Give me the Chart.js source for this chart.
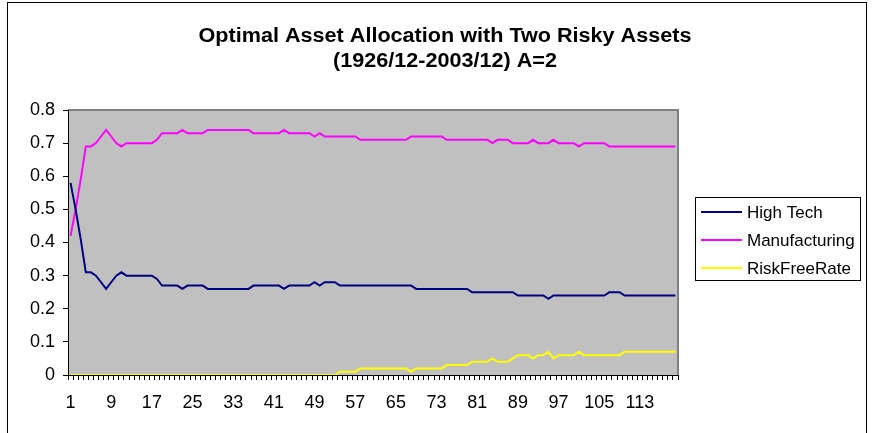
<!DOCTYPE html>
<html>
<head>
<meta charset="utf-8">
<script src="https://cdn.jsdelivr.net/npm/chart.js@4.4.1/dist/chart.umd.min.js"></script>
<style>
  html, body { margin: 0; padding: 0; background: #ffffff; }
  #wrap { width: 873px; height: 433px; position: relative; }
</style>
</head>
<body>
<div id="wrap"><canvas id="c" width="873" height="433"></canvas></div>
<script>
// ---- Data ----
const titleLines = ["Optimal Asset Allocation with Two Risky Assets", "(1926/12-2003/12) A=2"];
const categories = [1,2,3,4,5,6,7,8,9,10,11,12,13,14,15,16,17,18,19,20,21,22,23,24,25,26,27,28,29,30,
  31,32,33,34,35,36,37,38,39,40,41,42,43,44,45,46,47,48,49,50,51,52,53,54,55,56,57,58,59,60,
  61,62,63,64,65,66,67,68,69,70,71,72,73,74,75,76,77,78,79,80,81,82,83,84,85,86,87,88,89,90,
  91,92,93,94,95,96,97,98,99,100,101,102,103,104,105,106,107,108,109,110,111,112,113,114,115,116,117,118,119,120];
const highTech = [0.58,0.50,0.41,0.31,0.31,0.30,0.28,0.26,0.28,0.30,0.31,0.30,0.30,0.30,0.30,0.30,0.30,0.29,0.27,0.27,
  0.27,0.27,0.26,0.27,0.27,0.27,0.27,0.26,0.26,0.26,0.26,0.26,0.26,0.26,0.26,0.26,0.27,0.27,0.27,0.27,
  0.27,0.27,0.26,0.27,0.27,0.27,0.27,0.27,0.28,0.27,0.28,0.28,0.28,0.27,0.27,0.27,0.27,0.27,0.27,0.27,
  0.27,0.27,0.27,0.27,0.27,0.27,0.27,0.27,0.26,0.26,0.26,0.26,0.26,0.26,0.26,0.26,0.26,0.26,0.26,0.25,
  0.25,0.25,0.25,0.25,0.25,0.25,0.25,0.25,0.24,0.24,0.24,0.24,0.24,0.24,0.23,0.24,0.24,0.24,0.24,0.24,
  0.24,0.24,0.24,0.24,0.24,0.24,0.25,0.25,0.25,0.24,0.24,0.24,0.24,0.24,0.24,0.24,0.24,0.24,0.24,0.24];
const manufacturing = [0.42,0.50,0.59,0.69,0.69,0.70,0.72,0.74,0.72,0.70,0.69,0.70,0.70,0.70,0.70,0.70,0.70,0.71,0.73,0.73,
  0.73,0.73,0.74,0.73,0.73,0.73,0.73,0.74,0.74,0.74,0.74,0.74,0.74,0.74,0.74,0.74,0.73,0.73,0.73,0.73,
  0.73,0.73,0.74,0.73,0.73,0.73,0.73,0.73,0.72,0.73,0.72,0.72,0.72,0.72,0.72,0.72,0.72,0.71,0.71,0.71,
  0.71,0.71,0.71,0.71,0.71,0.71,0.71,0.72,0.72,0.72,0.72,0.72,0.72,0.72,0.71,0.71,0.71,0.71,0.71,0.71,
  0.71,0.71,0.71,0.70,0.71,0.71,0.71,0.70,0.70,0.70,0.70,0.71,0.70,0.70,0.70,0.71,0.70,0.70,0.70,0.70,
  0.69,0.70,0.70,0.70,0.70,0.70,0.69,0.69,0.69,0.69,0.69,0.69,0.69,0.69,0.69,0.69,0.69,0.69,0.69,0.69];
const riskFreeRate = [0,0,0,0,0,0,0,0,0,0,0,0,0,0,0,0,0,0,0,0,
  0,0,0,0,0,0,0,0,0,0,0,0,0,0,0,0,0,0,0,0,
  0,0,0,0,0,0,0,0,0,0,0,0,0,0.01,0.01,0.01,0.01,0.02,0.02,0.02,
  0.02,0.02,0.02,0.02,0.02,0.02,0.02,0.01,0.02,0.02,0.02,0.02,0.02,0.02,0.03,0.03,0.03,0.03,0.03,0.04,
  0.04,0.04,0.04,0.05,0.04,0.04,0.04,0.05,0.06,0.06,0.06,0.05,0.06,0.06,0.07,0.05,0.06,0.06,0.06,0.06,
  0.07,0.06,0.06,0.06,0.06,0.06,0.06,0.06,0.06,0.07,0.07,0.07,0.07,0.07,0.07,0.07,0.07,0.07,0.07,0.07];
const seriesNames = ["High Tech", "Manufacturing", "RiskFreeRate"];
const yTicks = [0, 0.1, 0.2, 0.3, 0.4, 0.5, 0.6, 0.7, 0.8];
const xLabelEvery = 8;

const FONT = "'Liberation Sans', Arial, sans-serif";
const colors = ["#000080", "#FF00FF", "#FFFF00"];

const decorPlugin = {
  id: 'decor',
  beforeDraw(chart) {
    const ctx = chart.ctx, a = chart.chartArea;
    ctx.save();
    ctx.fillStyle = '#ffffff';
    ctx.fillRect(0, 0, chart.width, chart.height);
    // outer chart border
    ctx.strokeStyle = '#000000';
    ctx.lineWidth = 1;
    ctx.strokeRect(7.5, 2.5, 859, 460);
    // plot area
    ctx.fillStyle = '#C0C0C0';
    ctx.fillRect(a.left, a.top, a.right - a.left, a.bottom - a.top);
    ctx.strokeStyle = '#808080';
    ctx.lineWidth = 2;
    ctx.beginPath();
    ctx.moveTo(a.left, a.top);
    ctx.lineTo(a.right, a.top);
    ctx.lineTo(a.right, a.bottom);
    ctx.stroke();
    // title (slightly widened like the original)
    ctx.fillStyle = '#000000';
    ctx.font = "bold 20px " + FONT;
    ctx.textAlign = 'center';
    ctx.textBaseline = 'alphabetic';
    ctx.translate(445, 0);
    ctx.scale(1.08, 1);
    ctx.fillText(titleLines[0], 0, 42);
    ctx.fillText(titleLines[1], 0, 67);
    ctx.restore();
  },
  afterDraw(chart) {
    const ctx = chart.ctx;
    ctx.save();
    // legend
    ctx.strokeStyle = '#000000';
    ctx.lineWidth = 1;
    ctx.strokeRect(695.5, 197.5, 165, 83);
    ctx.font = "17px " + FONT;
    ctx.textAlign = 'left';
    ctx.textBaseline = 'middle';
    const rows = [212, 240, 268];
    chart.data.datasets.forEach((ds, i) => {
      ctx.strokeStyle = ds.borderColor;
      ctx.lineWidth = 2;
      ctx.beginPath();
      ctx.moveTo(701, rows[i]);
      ctx.lineTo(742, rows[i]);
      ctx.stroke();
      ctx.fillStyle = '#000000';
      ctx.fillText(ds.label, 747, rows[i] + 1);
    });
    ctx.restore();
  }
};

new Chart(document.getElementById('c'), {
  type: 'line',
  data: {
    labels: categories,
    datasets: [
      { label: seriesNames[0], data: highTech, borderColor: colors[0], borderWidth: 2 },
      { label: seriesNames[1], data: manufacturing, borderColor: colors[1], borderWidth: 2 },
      { label: seriesNames[2], data: riskFreeRate, borderColor: colors[2], borderWidth: 2 }
    ]
  },
  options: {
    responsive: false,
    animation: false,
    events: [],
    elements: { point: { radius: 0 }, line: { tension: 0 } },
    layout: { padding: { top: 110, right: 195, left: 0, bottom: 0 } },
    plugins: { legend: { display: false }, title: { display: false }, tooltip: { enabled: false } },
    scales: {
      x: {
        type: 'category',
        offset: true,
        grid: { display: true, offset: true, drawOnChartArea: false, drawTicks: true, tickLength: 5, color: '#000000', lineWidth: 1 },
        border: { display: true, color: '#000000', width: 1 },
        ticks: {
          autoSkip: false, maxRotation: 0, minRotation: 0, padding: 12,
          color: '#000000', font: { family: FONT, size: 18 },
          callback: function(val, idx) { return (idx % xLabelEvery === 0) ? String(categories[idx]) : ''; }
        },
        afterFit(scale) { scale.height = 58; }
      },
      y: {
        min: 0, max: 0.8,
        afterBuildTicks(scale) { scale.ticks = yTicks.map(v => ({ value: v })); },
        grid: { display: true, drawOnChartArea: false, drawTicks: true, tickLength: 5, color: '#000000', lineWidth: 1 },
        border: { display: true, color: '#000000', width: 1 },
        ticks: {
          padding: 8, color: '#000000', font: { family: FONT, size: 18 },
          callback: function(v) { return v === 0 ? '0' : v.toFixed(1); }
        },
        afterFit(scale) { scale.width = 68; }
      }
    }
  },
  plugins: [decorPlugin]
});
</script>
</body>
</html>
